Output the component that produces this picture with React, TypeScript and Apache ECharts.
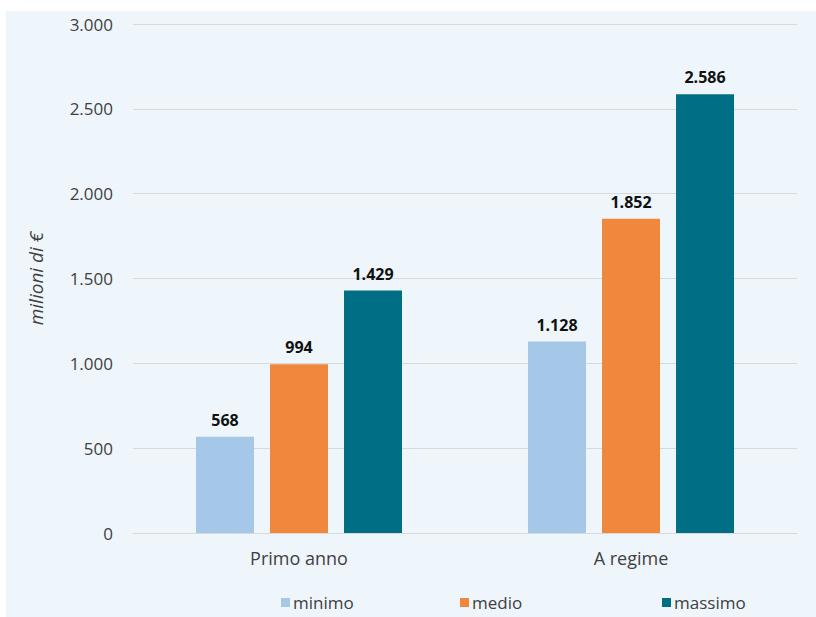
import React, { useEffect, useRef } from "react";
import * as echarts from "echarts";

const categories = ["Primo anno", "A regime"];
const seriesNames = ["minimo", "medio", "massimo"];
const minimo = [568, 1128];
const medio = [994, 1852];
const massimo = [1429, 2586];
const yTicks = [0, 500, 1000, 1500, 2000, 2500, 3000];
const colors = ["#A6C8E8", "#EF873C", "#006F86"];

const fmt = (v: number) => String(v).replace(/\B(?=(\d{3})+(?!\d))/g, ".");

export default function App() {
  const ref = useRef<HTMLDivElement>(null);
  useEffect(() => {
    if (!ref.current) return;
    const chart = echarts.init(ref.current, undefined, { renderer: "svg" });
    const font = "'Open Sans', sans-serif";
    const values = [minimo, medio, massimo];
    const legendLeft = [281, 460, 662];
    chart.setOption({
      animation: false,
      textStyle: { fontFamily: font },
      graphic: [
        {
          type: "rect",
          shape: { x: 6, y: 11, width: 810, height: 606 },
          style: { fill: "#EEF6FC" },
          z: -10,
          silent: true,
        },
      ],
      legend: seriesNames.map((n, i) => ({
        data: [n],
        left: legendLeft[i],
        top: 594,
        padding: 0,
        itemWidth: 9,
        itemHeight: 9,
        itemGap: 5,
        icon: "rect",
        textStyle: { fontFamily: font, fontSize: 17, color: "#404040", padding: [0, 0, 0, -2] },
      })),
      grid: { left: 133, right: 19, top: 24, bottom: 84 },
      xAxis: {
        type: "category",
        data: categories,
        axisLine: { show: true, lineStyle: { color: "#D9D9D9", width: 1 } },
        axisTick: { show: false },
        axisLabel: { fontSize: 18, color: "#404040", margin: 16, fontFamily: font },
      },
      yAxis: {
        type: "value",
        min: yTicks[0],
        max: yTicks[yTicks.length - 1],
        interval: 500,
        name: "milioni di €",
        nameLocation: "middle",
        nameGap: 88,
        nameTextStyle: { fontStyle: "italic", fontSize: 19, color: "#404040", fontFamily: font },
        axisLine: { show: false },
        axisTick: { show: false },
        axisLabel: { fontSize: 17, color: "#404040", margin: 20, formatter: (v: number) => fmt(v), fontFamily: font },
        splitLine: { lineStyle: { color: "#D9D9D9", width: 1 } },
      },
      series: seriesNames.map((n, i) => ({
        name: n,
        type: "bar",
        data: values[i],
        barWidth: 58,
        barGap: "27.6%",
        itemStyle: { color: colors[i] },
        label: {
          show: true,
          position: "top",
          distance: 9,
          fontSize: 16,
          fontWeight: "bold",
          color: "#111111",
          fontFamily: font,
          formatter: (p: any) => fmt(p.value),
        },
      })),
    });
    return () => chart.dispose();
  }, []);
  return (
    <div
      ref={ref}
      style={{ position: "fixed", left: 0, top: 0, width: 816, height: 617, background: "#ffffff" }}
    />
  );
}
